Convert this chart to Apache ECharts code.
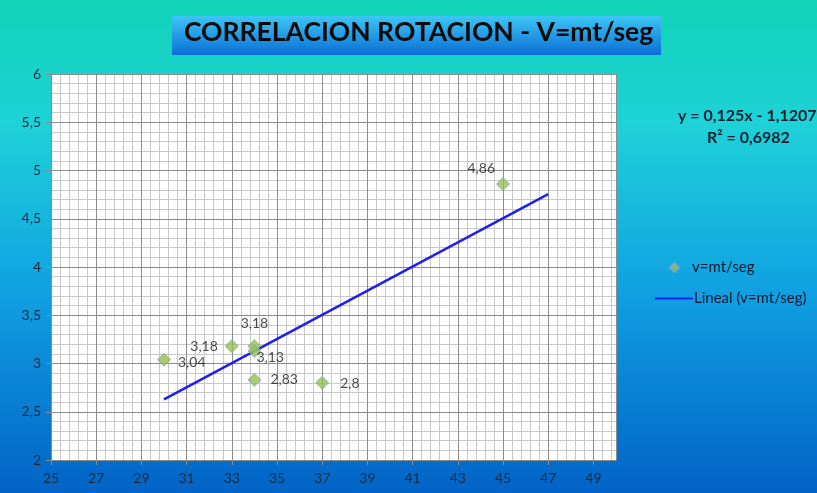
<!DOCTYPE html>
<html>
<head>
<meta charset="utf-8">
<title>Correlacion rotacion</title>
<script src="https://cdn.jsdelivr.net/npm/echarts@6/dist/echarts.min.js"></script>
<style>
  html, body { margin: 0; padding: 0; }
  #main { width: 817px; height: 493px; }
</style>
</head>
<body>
<div id="main"></div>
<script>
// datos
const rotacion = [30, 33, 34, 34, 34, 37, 45];
const velocidad = [3.04, 3.18, 3.18, 3.13, 2.83, 2.8, 4.86];
// linea de tendencia (y = 0,125x - 1,1207), de 30 a 47
const tendenciaX = [30, 47];
const tendenciaY = [2.6293, 4.7543];
const ecuacion = 'y = 0,125x - 1,1207';
const r2 = 'R² = 0,6982';

// donde va cada etiqueta respecto a su punto
const etiquetas = [
  { position: 'right', offset: [2, 3] },
  { position: 'left', offset: [-2, 0] },
  { position: 'top', offset: [0, -4] },
  { position: 'right', offset: [-10, 7] },
  { position: 'right', offset: [4, 0] },
  { position: 'right', offset: [6, 1] },
  { position: 'left', offset: [4, -16] }
];

const coma = v => String(v).replace('.', ',');
const font = 'Lato, "Open Sans", sans-serif';

let chart = echarts.init(document.getElementById('main'));

let puntos = rotacion.map((x, i) => ({
  value: [x, velocidad[i]],
  label: etiquetas[i]
}));

let option = {
  animation: false,
  backgroundColor: new echarts.graphic.LinearGradient(0, 0, 0, 1, [
    { offset: 0, color: '#11d3b6' },
    { offset: 0.25, color: '#1ed2d8' },
    { offset: 0.6, color: '#109fe2' },
    { offset: 1, color: '#0263c6' }
  ]),
  textStyle: { fontFamily: font },
  grid: {
    left: 51, right: 201, top: 74, bottom: 33,
    show: true, backgroundColor: '#fff', borderWidth: 0
  },
  graphic: [
    {
      type: 'rect',
      shape: { x: 172, y: 16, width: 489, height: 39 },
      style: {
        fill: new echarts.graphic.LinearGradient(0, 0, 0, 1, [
          { offset: 0, color: '#3cc6f4' },
          { offset: 1, color: '#0b6fd6' }
        ])
      }
    },
    {
      type: 'text', left: 184, top: 19,
      style: { text: 'CORRELACION ROTACION - V=mt/seg', font: 'bold 26.5px ' + font, fill: '#0a0a0a' }
    },
    {
      type: 'text', left: 678, top: 108,
      style: { text: ecuacion, font: 'bold 16px ' + font, fill: '#14202e' }
    },
    {
      type: 'text', left: 707, top: 130,
      style: { text: r2, font: 'bold 16px ' + font, fill: '#14202e' }
    }
  ],
  legend: [
    {
      orient: 'vertical', left: 664, top: 255,
      itemWidth: 9, itemHeight: 9, itemGap: 2,
      data: [{ name: 'v=mt/seg', icon: 'diamond' }],
      textStyle: { color: '#101830', fontSize: 15, fontFamily: font, padding: [0, 0, 0, 8] }
    },
    {
      orient: 'vertical', left: 650, top: 286,
      itemWidth: 38, itemHeight: 2, itemGap: 0,
      data: [{ name: 'Lineal (v=mt/seg)', icon: 'rect' }],
      textStyle: { color: '#101830', fontSize: 15, fontFamily: font, padding: [0, 0, 0, -4] }
    }
  ],
  xAxis: [
    {
      type: 'value', min: 25, max: 50, interval: 2, z: 1,
      axisLine: { show: true, lineStyle: { color: '#8c8c8c' } },
      axisTick: { show: true, length: 5, lineStyle: { color: '#8c8c8c' } },
      axisLabel: { color: '#1a2a3e', fontSize: 14, margin: 11, showMaxLabel: false, formatter: coma },
      splitLine: { show: true, lineStyle: { color: '#8c8c8c', width: 1 } }
    },
    {
      type: 'value', min: 25, max: 50, interval: 0.4, z: 0, position: 'bottom',
      axisLine: { show: false }, axisTick: { show: false }, axisLabel: { show: false },
      splitLine: { show: true, lineStyle: { color: '#c8c8c8', width: 1 } }
    }
  ],
  yAxis: [
    {
      type: 'value', min: 2, max: 6, interval: 0.5, z: 1,
      axisLine: { show: true, lineStyle: { color: '#8c8c8c' } },
      axisTick: { show: true, length: 5, lineStyle: { color: '#8c8c8c' } },
      axisLabel: { color: '#1a2a3e', fontSize: 14, margin: 10, formatter: coma },
      splitLine: { show: true, lineStyle: { color: '#8c8c8c', width: 1 } }
    },
    {
      type: 'value', min: 2, max: 6, interval: 0.1, z: 0, position: 'left',
      axisLine: { show: false }, axisTick: { show: false }, axisLabel: { show: false },
      splitLine: { show: true, lineStyle: { color: '#c8c8c8', width: 1 } }
    }
  ],
  series: [
    {
      name: 'v=mt/seg',
      type: 'scatter',
      symbol: 'diamond',
      symbolSize: 13,
      itemStyle: { color: '#93c24f', borderColor: '#8aa6bf', borderWidth: 1 },
      label: {
        show: true, color: '#1a1a1a', fontSize: 14, fontFamily: font,
        formatter: p => coma(p.value[1])
      },
      data: puntos,
      z: 3
    },
    {
      name: 'Lineal (v=mt/seg)',
      type: 'line',
      showSymbol: false,
      lineStyle: { color: '#1f1fee', width: 2.5 },
      itemStyle: { color: '#1f1fee' },
      data: tendenciaX.map((x, i) => [x, tendenciaY[i]]),
      z: 2
    }
  ]
};

option && chart.setOption(option);
</script>
</body>
</html>
